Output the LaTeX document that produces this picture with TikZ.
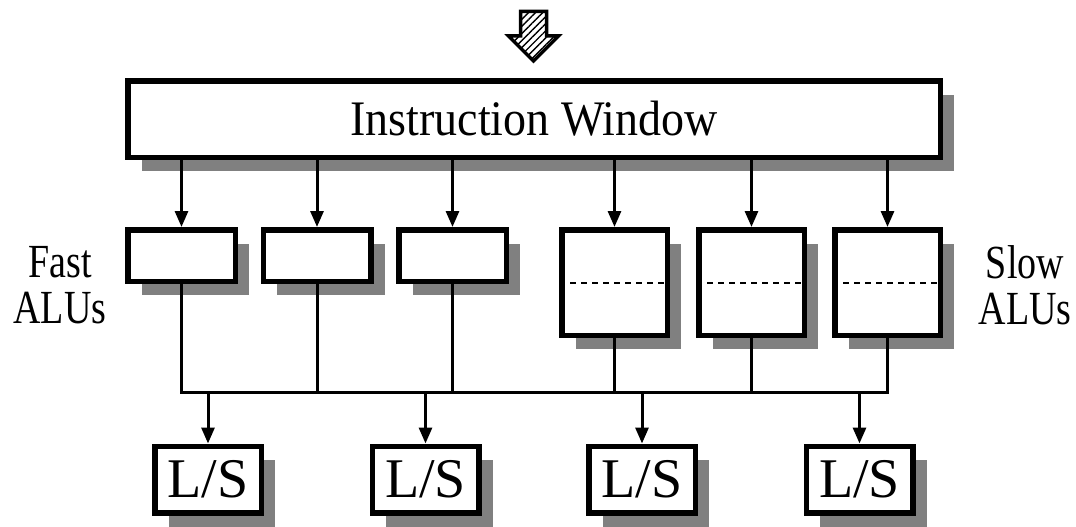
\documentclass[tikz,border=0pt]{standalone}
\usepackage{fontspec}
\setmainfont{Liberation Serif}
\usetikzlibrary{arrows.meta,shadows,patterns.meta}
\tikzset{
  unit/.style={draw,line width=5.5pt,fill=white,inner sep=0pt,
    drop shadow={shadow xshift=14pt,shadow yshift=-14pt,fill=black!50,opacity=1}},
  fastalu/.style={unit,minimum width=107.5pt,minimum height=51.5pt},
  slowalu/.style={unit,minimum width=105.5pt,minimum height=105.5pt},
  lsunit/.style={unit,minimum width=106.5pt,minimum height=66.5pt,
    font=\fontsize{56}{60}\selectfont},
  side/.style={align=center,font=\fontsize{38}{46}\selectfont},
  wire/.style={line width=3pt},
  feed/.style={wire,-{Triangle[length=16pt,width=13pt]}},
}
\begin{document}
\begin{tikzpicture}[x=1pt,y=-1pt]
      \useasboundingbox (0,0) rectangle (1076,527);
      % incoming instructions
      \draw[line width=3.5pt,pattern={Lines[angle=45,distance=5pt,line width=1.4pt]}]
        (520.5,11.5) -- (546.5,11.5) -- (546.5,36) -- (558.5,36)
        -- (533.5,61) -- (508.5,36) -- (520.5,36) -- cycle;
      \node[unit,minimum width=812.5pt,minimum height=76.5pt,
        font=\fontsize{46}{50}\selectfont] (iw) at (534,119) {\scalebox{1}[1.08]{Instruction Window}};
      \node[fastalu] (f1) at (181.5,255.5) {};
      \node[fastalu] (f2) at (317,255.5) {};
      \node[fastalu] (f3) at (452.5,255.5) {};
      \node[slowalu] (s1) at (614.5,282.5) {};
      \node[slowalu] (s2) at (751.5,282.5) {};
      \node[slowalu] (s3) at (887.5,282.5) {};
      \draw[line width=2pt,dash pattern=on 6pt off 5pt] (s1.west) -- (s1.east);
      \draw[line width=2pt,dash pattern=on 6pt off 5pt] (s2.west) -- (s2.east);
      \draw[line width=2pt,dash pattern=on 6pt off 5pt] (s3.west) -- (s3.east);
      \node[side] (fast) at (60,285) {\scalebox{1}[1.25]{Fast}\\\scalebox{1}[1.25]{ALUs}};
      \node[side] (slow) at (1025,285) {\scalebox{1}[1.25]{Slow}\\\scalebox{1}[1.25]{ALUs}};
      \node[lsunit] (ls1) at (208,479.5) {L/S};
      \node[lsunit] (ls2) at (425.5,479.5) {L/S};
      \node[lsunit] (ls3) at (642,479.5) {L/S};
      \node[lsunit] (ls4) at (859.5,479.5) {L/S};
      \coordinate (bus) at (0,392);
      \begin{scope}[feed]
        \draw (f1.north |- iw.south) -- (f1.north);
        \draw (f2.north |- iw.south) -- (f2.north);
        \draw (f3.north |- iw.south) -- (f3.north);
        \draw (s1.north |- iw.south) -- (s1.north);
        \draw (s2.north |- iw.south) -- (s2.north);
        \draw (s3.north |- iw.south) -- (s3.north);
        \draw (ls1.north |- bus) -- (ls1.north);
        \draw (ls2.north |- bus) -- (ls2.north);
        \draw (ls3.north |- bus) -- (ls3.north);
        \draw (ls4.north |- bus) -- (ls4.north);
      \end{scope}
      \begin{scope}[wire]
        \draw (f1.south) |- (s3.south |- bus) -- (s3.south);
        \draw (f2.south) -- (f2.south |- bus);
        \draw (f3.south) -- (f3.south |- bus);
        \draw (s1.south) -- (s1.south |- bus);
        \draw (s2.south) -- (s2.south |- bus);
      \end{scope}
    \end{tikzpicture}
\end{document}
